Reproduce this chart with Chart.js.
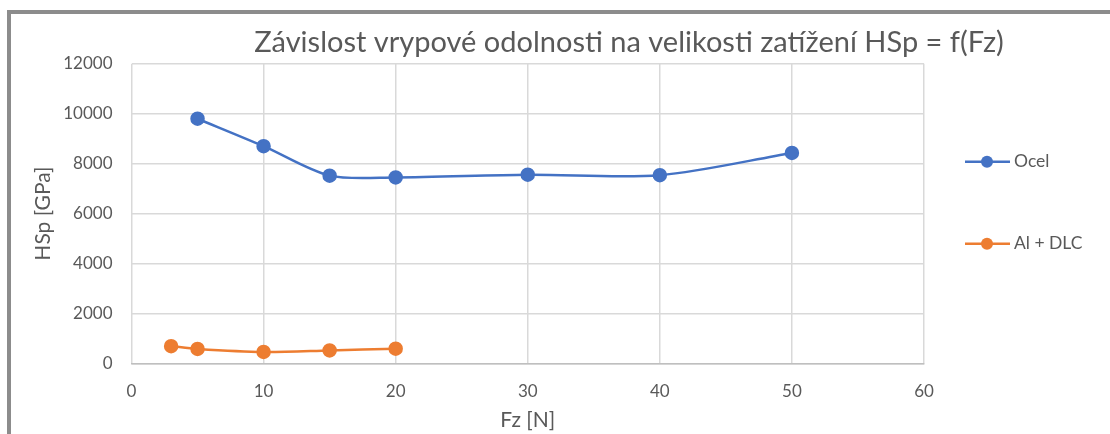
<!DOCTYPE html>
<html>
<head>
<meta charset="utf-8">
<script src="https://cdn.jsdelivr.net/npm/chart.js@4/dist/chart.umd.min.js"></script>
<style>
    body { margin: 0; background: #fff; }
    #frame {
        position: absolute; left: 7px; top: 10px; width: 1110px; height: 440px;
        border-left: 4px solid #8c8c8c; border-top: 4px solid #8c8c8c;
        box-sizing: border-box;
    }
    #hsp { position: absolute; left: 0; top: 0; }
</style>
</head>
<body>
<div id="frame"></div>
<canvas id="hsp" width="1110" height="434"></canvas>
<script>
// Fz [N] a HSp [GPa]
const ocelFz = [5, 10, 15, 20, 30, 40, 50];
const ocelHSp = [9800, 8700, 7520, 7450, 7560, 7540, 8430];
const alFz = [3, 5, 10, 15, 20];
const alHSp = [690, 580, 460, 520, 590];

const seriesNames = ["Ocel", "Al + DLC"];
const seriesColors = ["#4472C4", "#ED7D31"];
const titleText = "Závislost vrypové odolnosti na velikosti zatížení HSp = f(Fz)";
const xTitle = "Fz [N]";
const yTitle = "HSp [GPa]";

const textColor = "#595959";
const fontFamily = "Lato, 'Open Sans', sans-serif";

function toPoints(xs, ys) {
    return xs.map((x, i) => ({ x: x, y: ys[i] }));
}

// legenda vpravo: cara s teckou jako v Excelu
const sideLegend = {
    id: "sideLegend",
    afterDraw(chart) {
        const ctx = chart.ctx;
        const area = chart.chartArea;
        ctx.save();
        chart.data.datasets.forEach((ds, i) => {
            const x = area.right + 41;
            const y = area.top + 98 + i * 82;
            ctx.strokeStyle = ds.borderColor;
            ctx.lineWidth = 2.5;
            ctx.beginPath();
            ctx.moveTo(x, y);
            ctx.lineTo(x + 45, y);
            ctx.stroke();
            ctx.fillStyle = ds.borderColor;
            ctx.beginPath();
            ctx.arc(x + 22, y, 6, 0, Math.PI * 2);
            ctx.fill();
            ctx.fillStyle = textColor;
            ctx.font = "17.5px " + fontFamily;
            ctx.textBaseline = "middle";
            ctx.textAlign = "left";
            ctx.fillText(ds.label, x + 49, y);
        });
        ctx.restore();
    },
};

// titulek je v originale posunuty doprava
const shiftTitle = {
    id: "shiftTitle",
    afterLayout(chart) {
        chart.titleBlock.left = 629 - 420;
        chart.titleBlock.right = 629 + 420;
    },
};

const chart = new Chart(document.getElementById("hsp").getContext("2d"), {
    type: "scatter",
    data: {
        datasets: [{
            label: seriesNames[0],
            data: toPoints(ocelFz, ocelHSp),
            borderColor: seriesColors[0],
            backgroundColor: seriesColors[0],
            showLine: true,
            tension: 0.3,
            borderWidth: 2.5,
            pointRadius: 6,
        }, {
            label: seriesNames[1],
            data: toPoints(alFz, alHSp),
            borderColor: seriesColors[1],
            backgroundColor: seriesColors[1],
            showLine: true,
            tension: 0.3,
            borderWidth: 2.5,
            pointRadius: 6,
        }],
    },
    options: {
        responsive: false,
        animation: false,
        layout: {
            padding: { left: 31, right: 186, top: 15, bottom: 1 },
        },
        plugins: {
            legend: { display: false },
            tooltip: { enabled: false },
            title: {
                display: true,
                text: titleText,
                color: textColor,
                font: { family: fontFamily, size: 29, weight: "normal" },
                padding: { top: 10, bottom: 4 },
            },
        },
        scales: {
            x: {
                min: 0,
                max: 60,
                ticks: {
                    stepSize: 10,
                    color: textColor,
                    font: { family: fontFamily, size: 17 },
                    padding: 18,
                    maxRotation: 0,
                },
                grid: { color: "#d9d9d9", lineWidth: 1.5, drawTicks: false },
                border: { color: "#bfbfbf", width: 1.5 },
                title: {
                    display: true,
                    text: xTitle,
                    color: textColor,
                    font: { family: fontFamily, size: 21 },
                    padding: { top: -12, bottom: 0 },
                },
            },
            y: {
                min: 0,
                max: 12000,
                ticks: {
                    stepSize: 2000,
                    color: textColor,
                    font: { family: fontFamily, size: 17 },
                    padding: 19,
                    callback: (v) => String(v),
                },
                grid: { color: "#d9d9d9", lineWidth: 1.5, drawTicks: false },
                border: { display: false },
                title: {
                    display: true,
                    text: yTitle,
                    color: textColor,
                    font: { family: fontFamily, size: 21 },
                    padding: { top: 0, bottom: -12 },
                },
            },
        },
    },
    plugins: [sideLegend, shiftTitle],
});
</script>
</body>
</html>
